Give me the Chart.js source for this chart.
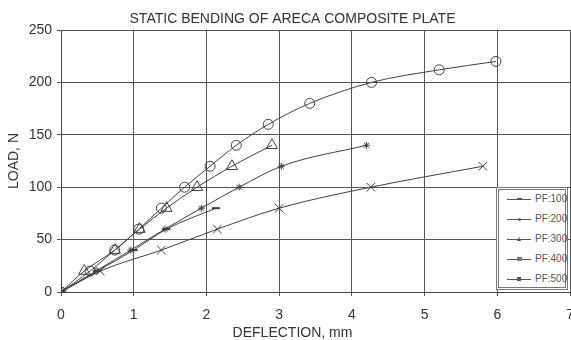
<!DOCTYPE html>
<html>
<head>
<meta charset="utf-8">
<script src="https://cdn.jsdelivr.net/npm/chart.js@4/dist/chart.umd.min.js"></script>
<style>
  html, body { margin: 0; padding: 0; background: #fff; overflow: hidden; }
  #wrap { position: relative; width: 585px; height: 340px; }
  #legend {
    position: absolute; left: 496px; top: 187px; width: 66px; height: 97px;
    background: #fff; border: 3px double #777;
    font-family: "Liberation Sans", Arial, sans-serif; font-size: 10px; color: #555;
  }
  .row { position: absolute; left: 0; height: 10px; width: 66px; }
  .row .ln { position: absolute; left: 8px; top: 5px; width: 24px; border-top: 1px solid #555; }
  .row .mk { position: absolute; background: #555; }
  .row .tx { position: absolute; left: 36px; top: 0; line-height: 10px; }
</style>
</head>
<body>
<div id="wrap">
  <canvas id="c"></canvas>
  <div id="legend"></div>
</div>
<script>
const seriesNames = ["PF:100", "PF:200", "PF:300", "PF:400", "PF:500"];
const pf100X = [0, 0.5, 1.0, 1.45, 2.13];
const pf100Y = [0, 20, 40, 60, 80];
const pf200X = [0, 0.4, 0.74, 1.07, 1.38, 1.7, 2.05, 2.41, 2.85, 3.42, 4.27, 5.2, 5.98];
const pf200Y = [0, 20, 40, 60, 80, 100, 120, 140, 160, 180, 200, 212, 220];
const pf300X = [0, 0.32, 0.74, 1.08, 1.45, 1.87, 2.35, 2.9];
const pf300Y = [0, 20, 40, 60, 80, 100, 120, 140];
const pf400X = [0, 0.54, 1.38, 2.15, 3.0, 4.26, 5.8];
const pf400Y = [0, 20, 40, 60, 80, 100, 120];
const pf500X = [0, 0.48, 0.96, 1.43, 1.93, 2.45, 3.03, 4.2];
const pf500Y = [0, 20, 40, 60, 80, 100, 120, 140];
const xTicks = [0, 1, 2, 3, 4, 5, 6, 7];
const yTicks = [0, 50, 100, 150, 200, 250];

function pts(xs, ys) { return xs.map((x, i) => ({ x: x, y: ys[i] })); }

const ink = "#404040";
const styles = [
  { pointStyle: "line", pointRadius: 4, pointBorderWidth: 2 },
  { pointStyle: "circle", pointRadius: 5, pointBorderWidth: 1 },
  { pointStyle: "triangle", pointRadius: 6.5, pointBorderWidth: 1 },
  { pointStyle: "crossRot", pointRadius: 6, pointBorderWidth: 1 },
  { pointStyle: "star", pointRadius: 3.5, pointBorderWidth: 1 }
];
const sets = [[pf100X, pf100Y], [pf200X, pf200Y], [pf300X, pf300Y], [pf400X, pf400Y], [pf500X, pf500Y]];

const datasets = sets.map((s, i) => Object.assign({
  label: seriesNames[i],
  data: pts(s[0], s[1]),
  borderColor: ink,
  borderWidth: 1,
  backgroundColor: "rgba(0,0,0,0)",
  pointBorderColor: ink,
  pointBackgroundColor: "rgba(0,0,0,0)",
  cubicInterpolationMode: "monotone",
  showLine: true
}, styles[i]));

const font = { family: "'Liberation Sans', Arial, sans-serif" };
const PLOT_LEFT = 61, PLOT_BOTTOM = 292, SUB_PAD_BOTTOM = -2, FS = 14;
const subHeight = FS * 1.2 + SUB_PAD_BOTTOM;

new Chart(document.getElementById("c"), {
  type: "scatter",
  data: { datasets: datasets },
  options: {
    responsive: true,
    maintainAspectRatio: false,
    animation: false,
    layout: { padding: 0 },
    plugins: {
      legend: { display: false },
      tooltip: { enabled: false },
      title: {
        display: true,
        text: "STATIC BENDING OF ARECA COMPOSITE PLATE",
        color: "#333",
        font: Object.assign({ size: FS, weight: "normal" }, font),
        padding: { top: 10.4, bottom: 2.8 }
      },
      subtitle: {
        display: true,
        position: "bottom",
        text: "DEFLECTION, mm",
        color: "#333",
        font: Object.assign({ size: FS, weight: "normal" }, font),
        padding: { top: 0, bottom: SUB_PAD_BOTTOM }
      }
    },
    scales: {
      x: {
        type: "linear",
        min: 0, max: 7,
        afterBuildTicks: (s) => { s.ticks = xTicks.map(v => ({ value: v })); },
        afterFit: (s) => { s.height = 340 - PLOT_BOTTOM - subHeight; },
        ticks: { color: "#333", font: Object.assign({ size: FS }, font), padding: 11, maxRotation: 0 },
        grid: { color: "#555", lineWidth: 1, tickLength: 4 },
        border: { color: "#444", width: 1 }
      },
      y: {
        type: "linear",
        min: 0, max: 250,
        afterBuildTicks: (s) => { s.ticks = yTicks.map(v => ({ value: v })); },
        afterFit: (s) => { s.width = PLOT_LEFT; },
        ticks: { color: "#333", font: Object.assign({ size: FS }, font), padding: 5 },
        grid: { color: "#555", lineWidth: 1, tickLength: 4 },
        border: { color: "#444", width: 1 },
        title: {
          display: true,
          text: "LOAD, N",
          color: "#333",
          font: Object.assign({ size: FS }, font),
          padding: { top: 6, bottom: 0 }
        }
      }
    }
  }
});

// HTML legend
const legend = document.getElementById("legend");
seriesNames.forEach((name, i) => {
  const row = document.createElement("div");
  row.className = "row";
  row.style.top = (4 + i * 20) + "px";
  const ln = document.createElement("div"); ln.className = "ln"; row.appendChild(ln);
  const mk = document.createElement("div"); mk.className = "mk";
  if (i === 0) { mk.style.cssText = "left:18px;top:4px;width:5px;height:2px;"; }
  else if (i === 1) { mk.style.cssText = "left:19px;top:4px;width:3px;height:3px;border-radius:2px;"; }
  else if (i === 2) { mk.style.cssText = "left:18px;top:3px;width:0;height:0;background:none;border-left:2.5px solid transparent;border-right:2.5px solid transparent;border-bottom:4px solid #555;"; }
  else if (i === 3) { mk.style.cssText = "left:18px;top:3px;width:5px;height:4px;background:#777;"; }
  else { mk.style.cssText = "left:18px;top:3px;width:4px;height:4px;"; }
  row.appendChild(mk);
  const tx = document.createElement("div"); tx.className = "tx"; tx.textContent = name; row.appendChild(tx);
  legend.appendChild(row);
});
</script>
</body>
</html>
